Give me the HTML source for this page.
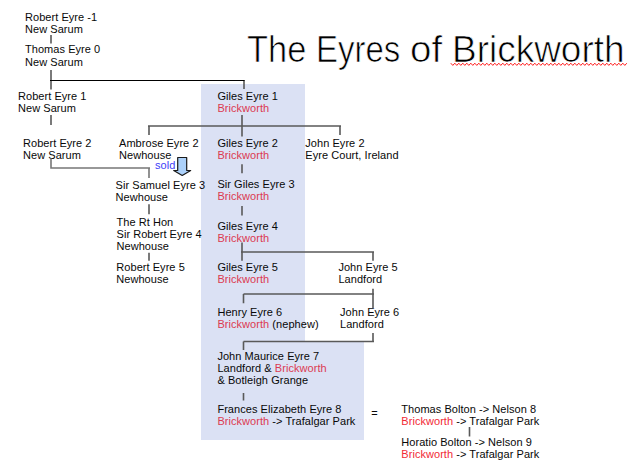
<!DOCTYPE html>
<html><head><meta charset="utf-8">
<style>
html,body{margin:0;padding:0;background:#fff;}
body{width:639px;height:463px;position:relative;overflow:hidden;font-family:"Liberation Sans",sans-serif;font-size:11px;line-height:12px;color:#080808;}
.t{position:absolute;white-space:pre;letter-spacing:0.05px;}
.r{color:#f22a36;}
.bx .r{color:#dc3a52;}
.box{position:absolute;background:#dbe1f4;}
svg{position:absolute;left:0;top:0;}
.w{position:absolute;white-space:pre;font-size:36px;line-height:40px;color:#000;transform-origin:0 0;-webkit-text-stroke:0.7px #fff;}
</style></head><body>
<div class="box" style="left:201px;top:84px;width:104px;height:258px"></div>
<div class="box" style="left:201px;top:342px;width:163px;height:98px"></div>

<svg width="639" height="463" viewBox="0 0 639 463">
<g stroke="#595959" stroke-width="1.6" fill="none">
<path d="M51 35V43.5"/>
<path d="M51 70V89.5"/>
<path d="M244 80V89"/>
<path d="M51 115V125"/>
<path d="M242 115V136.5"/>
<path d="M148 126H341M149 126V135M340 126V135"/>
<path d="M51 159V168H150M149 168V178" stroke="#777"/>
<path d="M242 164.3V173.3"/>
<path d="M149 204.3V214.3"/>
<path d="M242 206V215.4"/>
<path d="M149 252.8V260.7"/>
<path d="M242 242.5V260.7M241 252H374M373 252V260.7"/>
<path d="M243.5 294H374M243.5 294V303.3M373 288.8V308"/>
<path d="M243.5 341.5H374M243.5 341.5V350M373 333V341.5"/>
<path d="M243.5 393V400.5"/>
<path d="M469.5 427V436.5"/>
</g>
<path d="M50 80.5H244.5" stroke="#000" stroke-width="1.2" fill="none"/>
<path d="M177.7 157.5H186.7V170.5H190.7L182.2 175.4L173.7 170.5H177.7Z" fill="#acd1fa" stroke="#1a1a1a" stroke-width="1.2" stroke-linejoin="round"/>
<path d="M450.8 63.2L452.8 65.4L454.8 63.2L456.8 65.4L458.8 63.2L460.8 65.4L462.8 63.2L464.8 65.4L466.8 63.2L468.8 65.4L470.8 63.2L472.8 65.4L474.8 63.2L476.8 65.4L478.8 63.2L480.8 65.4L482.8 63.2L484.8 65.4L486.8 63.2L488.8 65.4L490.8 63.2L492.8 65.4L494.8 63.2L496.8 65.4L498.8 63.2L500.8 65.4L502.8 63.2L504.8 65.4L506.8 63.2L508.8 65.4L510.8 63.2L512.8 65.4L514.8 63.2L516.8 65.4L518.8 63.2L520.8 65.4L522.8 63.2L524.8 65.4L526.8 63.2L528.8 65.4L530.8 63.2L532.8 65.4L534.8 63.2L536.8 65.4L538.8 63.2L540.8 65.4L542.8 63.2L544.8 65.4L546.8 63.2L548.8 65.4L550.8 63.2L552.8 65.4L554.8 63.2L556.8 65.4L558.8 63.2L560.8 65.4L562.8 63.2L564.8 65.4L566.8 63.2L568.8 65.4L570.8 63.2L572.8 65.4L574.8 63.2L576.8 65.4L578.8 63.2L580.8 65.4L582.8 63.2L584.8 65.4L586.8 63.2L588.8 65.4L590.8 63.2L592.8 65.4L594.8 63.2L596.8 65.4L598.8 63.2L600.8 65.4L602.8 63.2L604.8 65.4L606.8 63.2L608.8 65.4L610.8 63.2L612.8 65.4L614.8 63.2L616.8 65.4L618.8 63.2L620.8 65.4L622.8 63.2L624.8 65.4L626.8 63.2" stroke="#ff1a1a" stroke-width="1" fill="none"/>
</svg>

<!-- title -->
<div class="w" style="left:247px;top:30px;transform:scaleX(0.956)">The</div>
<div class="w" style="left:315.9px;top:30px;transform:scaleX(0.915)">Eyres</div>
<div class="w" style="left:409.6px;top:30px;transform:scaleX(1.069)">of</div>
<div class="w" style="left:451.5px;top:30px;transform:scaleX(1.027)">Brickworth</div>

<!-- left column -->
<div class="t" style="left:25px;top:11.3px">Robert Eyre -1
New Sarum</div>
<div class="t" style="left:25px;top:43.1px">Thomas Eyre 0</div>
<div class="t" style="left:25px;top:56.1px">New Sarum</div>
<div class="t" style="left:18px;top:89.8px">Robert Eyre 1
New Sarum</div>
<div class="t" style="left:23px;top:136.8px">Robert Eyre 2
New Sarum</div>
<div class="t" style="left:119px;top:136.6px">Ambrose Eyre 2
Newhouse</div>
<div class="t" style="left:115.6px;top:178.6px">Sir Samuel Eyre 3
Newhouse</div>
<div class="t" style="left:116.5px;top:215.6px">The Rt Hon
Sir Robert Eyre 4
Newhouse</div>
<div class="t" style="left:116.3px;top:260.6px">Robert Eyre 5
Newhouse</div>
<div class="t" style="left:155px;top:158.5px;color:#3d3df8">sold</div>

<!-- Giles column -->
<div class="t bx" style="left:217.4px;top:89.8px">Giles Eyre 1
<span class="r">Brickworth</span></div>
<div class="t bx" style="left:217.4px;top:136.8px">Giles Eyre 2
<span class="r">Brickworth</span></div>
<div class="t bx" style="left:217.4px;top:178.4px">Sir Giles Eyre 3
<span class="r">Brickworth</span></div>
<div class="t bx" style="left:217.4px;top:220.1px">Giles Eyre 4
<span class="r">Brickworth</span></div>
<div class="t bx" style="left:217.4px;top:260.6px">Giles Eyre 5
<span class="r">Brickworth</span></div>
<div class="t bx" style="left:217.4px;top:306.2px">Henry Eyre 6
<span class="r">Brickworth</span> (nephew)</div>
<div class="t bx" style="left:217.4px;top:349.9px">John Maurice Eyre 7
Landford &amp; <span class="r">Brickworth</span>
&amp; Botleigh Grange</div>
<div class="t bx" style="left:217.4px;top:402.6px">Frances Elizabeth Eyre 8
<span class="r">Brickworth</span> -&gt; Trafalgar Park</div>

<!-- right -->
<div class="t" style="left:305.3px;top:136.8px">John Eyre 2
Eyre Court, Ireland</div>
<div class="t" style="left:338.4px;top:260.6px">John Eyre 5
Landford</div>
<div class="t" style="left:340px;top:306px">John Eyre 6
Landford</div>
<div class="t" style="left:371.3px;top:407px">=</div>
<div class="t" style="left:401.3px;top:402.7px">Thomas Bolton -&gt; Nelson 8
<span class="r">Brickworth</span> -&gt; Trafalgar Park</div>
<div class="t" style="left:401.3px;top:435.7px">Horatio Bolton -&gt; Nelson 9
<span class="r">Brickworth</span> -&gt; Trafalgar Park</div>
</body></html>
